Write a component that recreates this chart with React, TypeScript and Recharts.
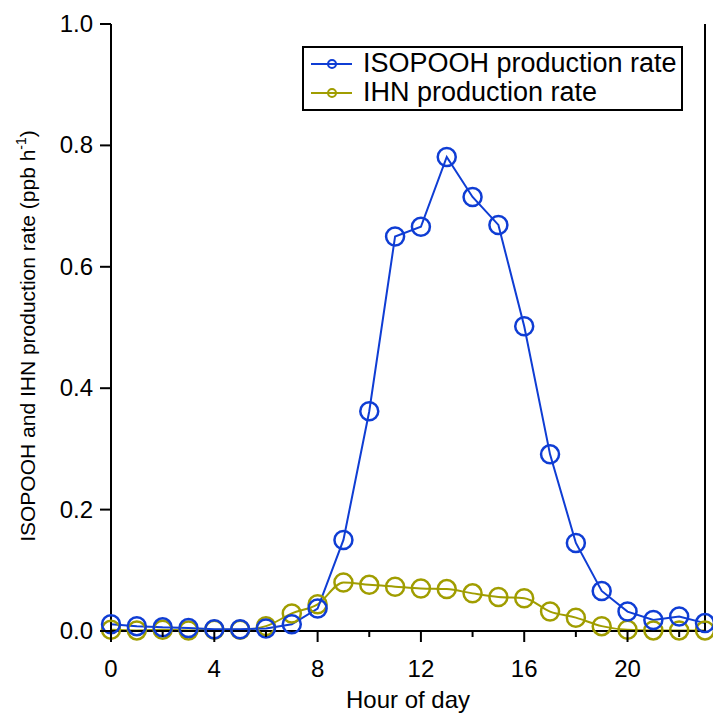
import { LineChart, Line, XAxis, YAxis, Legend } from "recharts";

const HOURS = [0, 1, 2, 3, 4, 5, 6, 7, 8, 9, 10, 11, 12, 13, 14, 15, 16, 17, 18, 19, 20, 21, 22, 23];

const ISOPOOH = [
  0.011, 0.008, 0.006, 0.005, 0.003, 0.003, 0.004, 0.011, 0.037, 0.15, 0.362, 0.65,
  0.666, 0.781, 0.715, 0.669, 0.502, 0.291, 0.145, 0.066, 0.032, 0.018, 0.024, 0.013,
];

const IHN = [
  0.002, 0.001, 0.002, 0.001, 0.002, 0.002, 0.008, 0.029, 0.044, 0.08, 0.076, 0.073,
  0.07, 0.069, 0.062, 0.056, 0.054, 0.032, 0.022, 0.008, 0.002, 0.001, 0.001, 0.001,
];

const X_TICKS = [0, 2, 4, 6, 8, 10, 12, 14, 16, 18, 20, 22];
const Y_TICKS = [0, 0.2, 0.4, 0.6, 0.8, 1.0];

const SERIES = [
  { key: "isop", name: "ISOPOOH production rate", color: "#0f3dd4" },
  { key: "ihn", name: "IHN production rate", color: "#a09d00" },
];

const data = HOURS.map((h, i) => ({ hour: h, isop: ISOPOOH[i], ihn: IHN[i] }));

const FONT = "'Liberation Sans', Arial, Helvetica, sans-serif";

// tick marks are drawn by hand so major/minor can have different lengths
const BottomTick = ({ x, y, payload }: any) => {
  const major = payload.value % 4 === 0;
  return (
    <g>
      <line x1={x} x2={x} y1={y} y2={y + (major ? 11 : 6)} stroke="#000" strokeWidth={2} />
      {major && (
        <text x={x} y={y + 46} textAnchor="middle" fontSize={24} fill="#000">
          {payload.value}
        </text>
      )}
    </g>
  );
};

const TopTick = ({ x, y, payload }: any) => {
  const major = payload.value % 4 === 0;
  return <line x1={x} x2={x} y1={y} y2={y - (major ? 11 : 6)} stroke="#000" strokeWidth={2} />;
};

const LeftTick = ({ x, y, payload }: any) => (
  <g>
    <line x1={x} x2={x - 11} y1={y} y2={y} stroke="#000" strokeWidth={2} />
    <text x={x - 18} y={y + 8} textAnchor="end" fontSize={24} fill="#000">
      {payload.value.toFixed(1)}
    </text>
  </g>
);

const RightTick = ({ x, y }: any) => (
  <line x1={x} x2={x + 10} y1={y} y2={y} stroke="#000" strokeWidth={2} />
);

const YLabel = () => (
  <text transform="translate(35,336) rotate(-90)" textAnchor="middle" fontSize={21} fill="#000">
    ISOPOOH and IHN production rate (ppb h
    <tspan dy={-9} fontSize={14}>-1</tspan>
    <tspan dy={9}>)</tspan>
  </text>
);

const renderLegend = () => (
  <div
    style={{
      border: "2px solid #000",
      background: "#fff",
      padding: "1px 4px 2px 7px",
      fontFamily: FONT,
      fontSize: 27,
      lineHeight: "29px",
      color: "#000",
    }}
  >
    {SERIES.map((s) => (
      <div key={s.key} style={{ display: "flex", alignItems: "center", whiteSpace: "nowrap" }}>
        <svg width={41} height={20} style={{ marginRight: 11 }}>
          <line x1={0} x2={41} y1={10} y2={10} stroke={s.color} strokeWidth={2} />
          <circle cx={21} cy={10} r={4} fill="none" stroke={s.color} strokeWidth={2} />
        </svg>
        <span>{s.name}</span>
      </div>
    ))}
  </div>
);

export default function App() {
  return (
    <div style={{ position: "absolute", left: 0, top: 0, width: 713, height: 713, background: "#fff" }}>
      <LineChart
        width={713}
        height={713}
        data={data}
        margin={{ top: 24, right: 0, bottom: 0, left: 0 }}
        style={{ fontFamily: FONT }}
      >
        <XAxis
          dataKey="hour"
          type="number"
          domain={[0, 23]}
          ticks={X_TICKS}
          height={82}
          axisLine={{ stroke: "#000", strokeWidth: 2 }}
          tickLine={false}
          tickSize={0}
          tickMargin={0}
          tick={<BottomTick />}
          interval={0}
          label={{ value: "Hour of day", position: "insideBottom", offset: 5, fontSize: 24, fill: "#000" }}
        />
        <XAxis
          xAxisId="top"
          orientation="top"
          dataKey="hour"
          type="number"
          domain={[0, 23]}
          ticks={X_TICKS}
          height={0}
          axisLine={{ stroke: "#000", strokeWidth: 2 }}
          tickLine={false}
          tickSize={0}
          tickMargin={0}
          tick={<TopTick />}
          interval={0}
        />
        <YAxis
          type="number"
          domain={[0, 1]}
          ticks={Y_TICKS}
          width={111}
          axisLine={{ stroke: "#000", strokeWidth: 2 }}
          tickLine={false}
          tickSize={0}
          tickMargin={0}
          tick={<LeftTick />}
          interval={0}
          label={<YLabel />}
        />
        <YAxis
          yAxisId="right"
          orientation="right"
          type="number"
          domain={[0, 1]}
          ticks={Y_TICKS}
          width={8}
          axisLine={{ stroke: "#000", strokeWidth: 2 }}
          tickLine={false}
          tickSize={0}
          tickMargin={0}
          tick={<RightTick />}
          interval={0}
        />
        <Legend
          layout="vertical"
          align="center"
          verticalAlign="middle"
          content={renderLegend}
          wrapperStyle={{ left: 302, top: 46, width: "auto", height: "auto" }}
        />
        <Line
          dataKey="ihn"
          type="monotone"
          stroke={SERIES[1].color}
          strokeWidth={2}
          dot={{ r: 9, fill: "none", stroke: SERIES[1].color, strokeWidth: 2.5 }}
          isAnimationActive={false}
        />
        <Line
          dataKey="isop"
          type="linear"
          stroke={SERIES[0].color}
          strokeWidth={2}
          dot={{ r: 9, fill: "none", stroke: SERIES[0].color, strokeWidth: 2.5 }}
          isAnimationActive={false}
        />
      </LineChart>
    </div>
  );
}
